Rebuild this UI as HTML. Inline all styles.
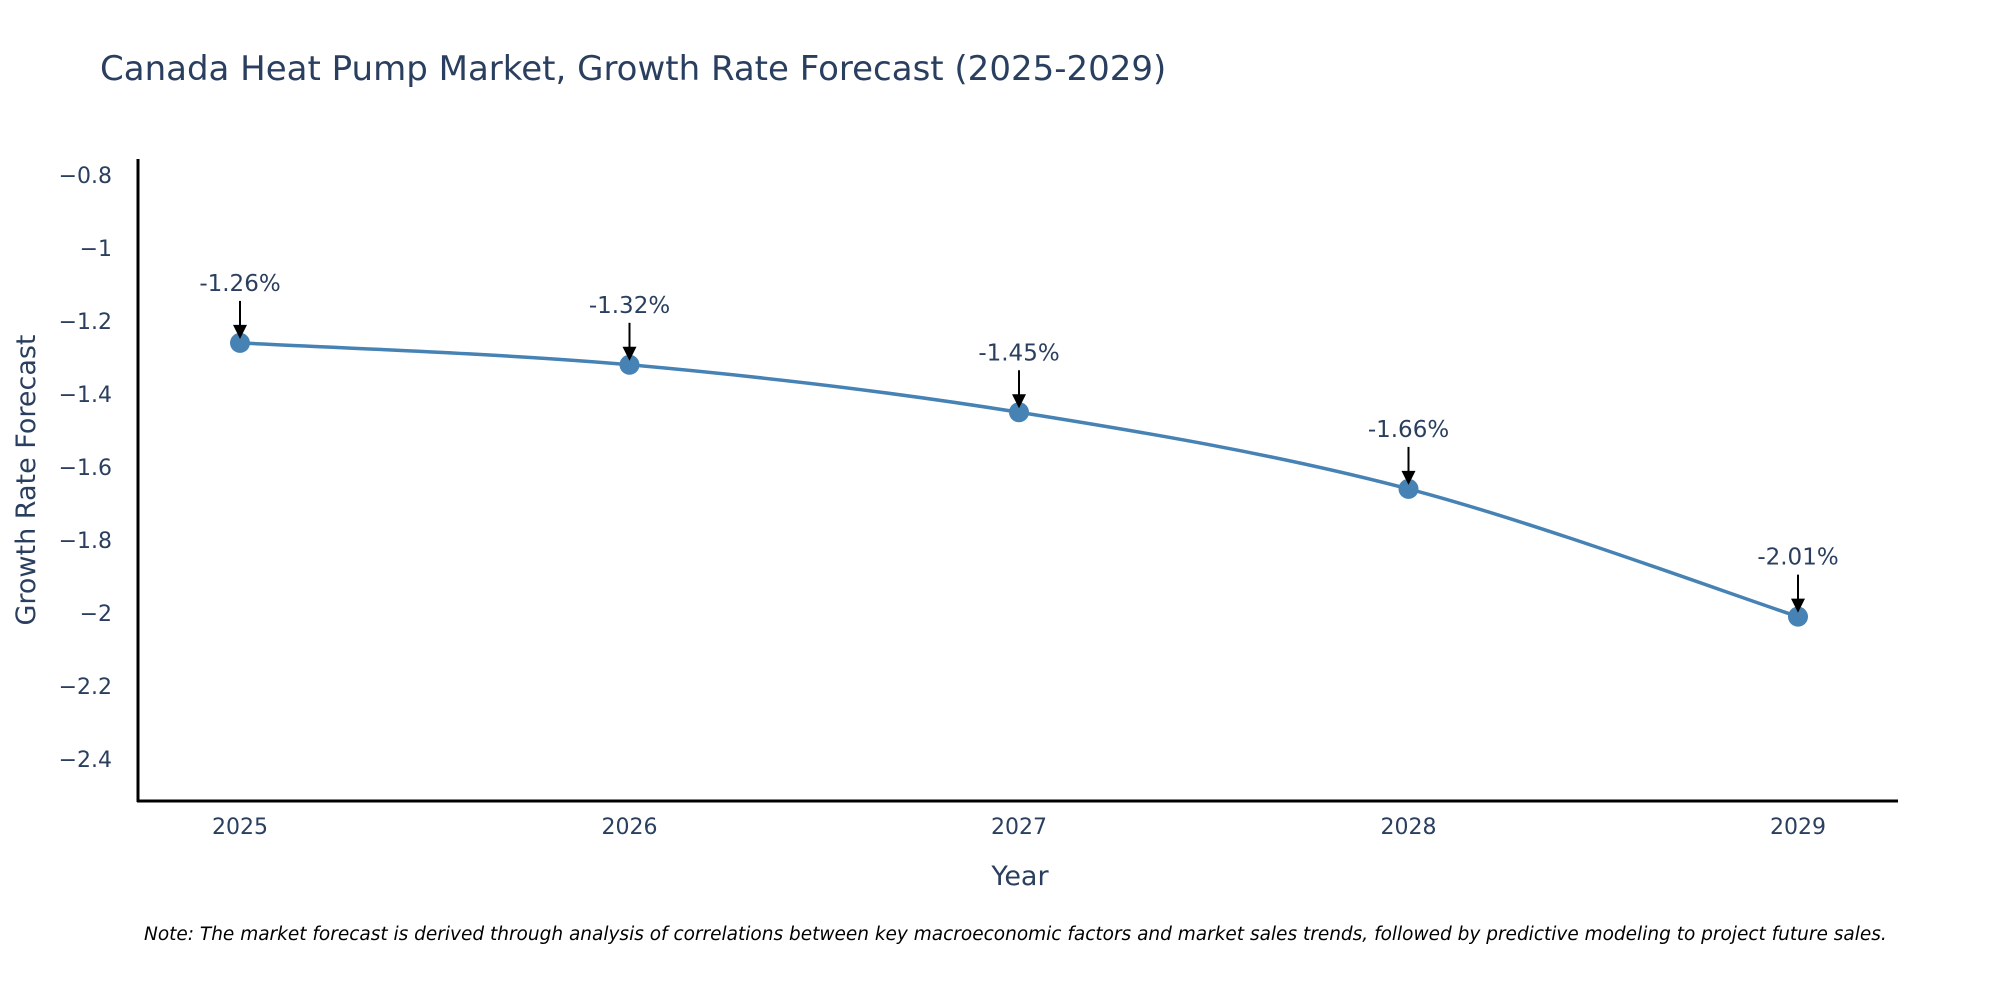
<!DOCTYPE html>
<html><head><meta charset="utf-8"><style>
body{margin:0;background:#fff;overflow:hidden}
svg{display:block;font-family:"DejaVu Sans","Liberation Sans",sans-serif}
</style></head><body>
<svg id="chart" width="2000" height="1000" viewBox="0 0 2000 1000">
<text x="100" y="80" font-size="34" fill="#2a3f5f">Canada Heat Pump Market, Growth Rate Forecast (2025-2029)</text>
<g id="yticks"></g><g id="xticks"></g>
<line x1="138" y1="159" x2="138" y2="802" stroke="#000" stroke-width="3"/>
<line x1="137" y1="801" x2="1898" y2="801" stroke="#000" stroke-width="3"/>
<text transform="translate(35,480) rotate(-90)" text-anchor="middle" font-size="27" fill="#2a3f5f">Growth Rate Forecast</text>
<text x="1020" y="885" text-anchor="middle" font-size="27" fill="#2a3f5f">Year</text>
<g id="series"></g>
<text x="144" y="940" font-size="18.5" font-style="italic" fill="#000">Note: The market forecast is derived through analysis of correlations between key macroeconomic factors and market sales trends, followed by predictive modeling to project future sales.</text>
</svg>
<script>
const years=[2025,2026,2027,2028,2029];
const values=[-1.26,-1.32,-1.45,-1.66,-2.01];
const labels=["-1.26%","-1.32%","-1.45%","-1.66%","-2.01%"];
const yTickVals=[-0.8,-1,-1.2,-1.4,-1.6,-1.8,-2,-2.2,-2.4];
const yTickLabels=["\u22120.8","\u22121","\u22121.2","\u22121.4","\u22121.6","\u22121.8","\u22122","\u22122.2","\u22122.4"];
const NS="http://www.w3.org/2000/svg";
const X=v=>240+(v-2025)*389.5;
const Y=v=>175+(-0.8-v)*365;
function mk(t,a,p){const e=document.createElementNS(NS,t);for(const k in a)e.setAttribute(k,a[k]);p.appendChild(e);return e;}
const yt=document.getElementById('yticks');
yTickVals.forEach((v,i)=>{const t=mk('text',{x:112,y:Y(v)+8,'text-anchor':'end','font-size':22,fill:'#2a3f5f'},yt);t.textContent=yTickLabels[i];

});
const xt=document.getElementById('xticks');
years.forEach(v=>{const t=mk('text',{x:X(v),y:834,'text-anchor':'middle','font-size':22,fill:'#2a3f5f'},xt);t.textContent=v;

});
const s=document.getElementById('series');
const P=years.map((y,i)=>[X(y),Y(values[i])]);
let d='M'+P[0][0]+','+P[0][1];
for(let i=0;i<P.length-1;i++){const p0=P[Math.max(0,i-1)],p1=P[i],p2=P[i+1],p3=P[Math.min(P.length-1,i+2)];const k=1/6;
d+=` C${p1[0]+(p2[0]-p0[0])*k},${p1[1]+(p2[1]-p0[1])*k} ${p2[0]-(p3[0]-p1[0])*k},${p2[1]-(p3[1]-p1[1])*k} ${p2[0]},${p2[1]}`;}
const line=mk('path',{d:d,fill:'none',stroke:'#4682b4','stroke-width':3.5},s);


P.forEach((p,i)=>{const c=mk('circle',{cx:p[0],cy:p[1],r:10,fill:'#4682b4'},s);


const l=mk('line',{x1:p[0],y1:p[1]-42,x2:p[0],y2:p[1]-14,stroke:'#000','stroke-width':2},s);


const h=mk('polygon',{points:`${p[0]-7},${p[1]-18} ${p[0]+7},${p[1]-18} ${p[0]},${p[1]-4}`,fill:'#000'},s);


const t=mk('text',{x:p[0],y:p[1]-52,'text-anchor':'middle','font-size':23,fill:'#2a3f5f'},s);t.textContent=labels[i];

});
</script>
</body></html>
